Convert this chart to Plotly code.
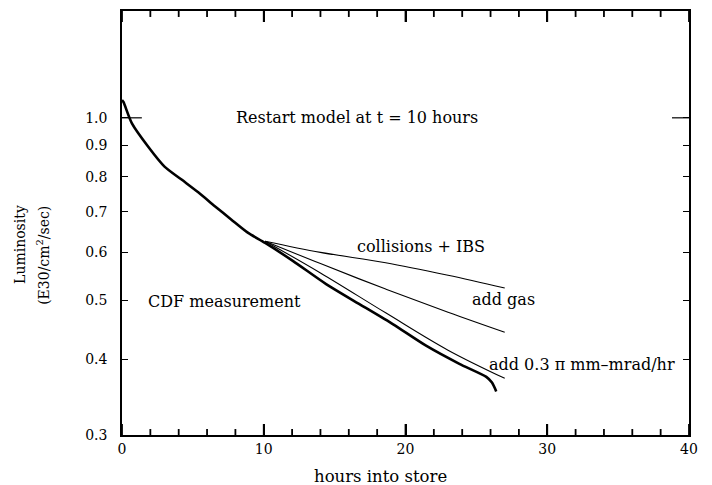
import plotly.graph_objects as go
import math

# ---- data ----
meas_t = [0.0, 0.1, 0.7, 1.85, 3.0, 4.2, 5.4, 6.55, 7.7, 8.9, 10.1, 12.05, 14.4, 16.75, 19.1, 21.45, 23.8, 25.7, 26.1, 26.4]
meas_L = [1.07, 1.062, 0.979, 0.896, 0.831, 0.791, 0.753, 0.715, 0.680, 0.646, 0.622, 0.581, 0.532, 0.493, 0.457, 0.421, 0.393, 0.374, 0.366, 0.354]

model_t = [10.1, 14.0, 18.6, 23.0, 27.0]
coll_ibs_L = [0.626, 0.600, 0.577, 0.550, 0.524]
add_gas_L = [0.626, 0.575, 0.522, 0.478, 0.443]
add_emit_L = [0.626, 0.555, 0.477, 0.414, 0.372]

x_range = [0, 40]
x_major = 10
x_minor = 2
y_ticks = [0.3, 0.4, 0.5, 0.6, 0.7, 0.8, 0.9, 1.0]
y_tick_text = ["0.3", "0.4", "0.5", "0.6", "0.7", "0.8", "0.9", "1.0"]
y_min, y_max = 0.3, 1.5
long_tick_L = 1.0

FONT = "DejaVu Serif"
PLOT_H = 426  # plot-area height in px (485 - 9 - 50)

fig = go.Figure()
fig.add_trace(go.Scatter(x=meas_t, y=meas_L, mode="lines",
                         line=dict(color="black", width=2.6, shape="spline", smoothing=0.7),
                         showlegend=False))
for L in (coll_ibs_L, add_gas_L, add_emit_L):
    fig.add_trace(go.Scatter(x=model_t, y=L, mode="lines",
                             line=dict(color="black", width=1.1, shape="spline"), showlegend=False))

tickfont = dict(family=FONT, size=14, color="black")

fig.update_xaxes(range=x_range, tickmode="linear", tick0=0, dtick=x_major,
                 ticks="inside", ticklen=11, tickwidth=1.8, tickcolor="black",
                 mirror="ticks", showline=True, linecolor="black",
                 linewidth=1.6, showgrid=False, zeroline=False, tickfont=tickfont)

fig.update_yaxes(type="log", range=[math.log10(y_min), math.log10(y_max)],
                 tickvals=y_ticks, ticktext=y_tick_text, ticklen=6, tickwidth=1.2,
                 ticks="inside", tickcolor="black", mirror="ticks", showline=True, linecolor="black",
                 linewidth=1.6, showgrid=False, zeroline=False, tickfont=tickfont,
                 ticklabelstandoff=10)

# x-axis tick marks (bottom and top), long every 10 h, short every 2 h
for v in range(x_range[0], x_range[1] + 1, x_minor):
    ln = (11 if v % x_major == 0 else 6) / PLOT_H
    fig.add_shape(type="line", xref="x", yref="paper", x0=v, x1=v, y0=0, y1=ln,
                  line=dict(color="black", width=1.8), layer="above")
    fig.add_shape(type="line", xref="x", yref="paper", x0=v, x1=v, y0=1, y1=1 - ln,
                  line=dict(color="black", width=1.8), layer="above")

# longer ticks at 1.0 on both sides
fig.add_shape(type="line", xref="paper", yref="y", x0=0, x1=0.035, y0=long_tick_L, y1=long_tick_L,
              line=dict(color="black", width=1.2))
fig.add_shape(type="line", xref="paper", yref="y", x0=0.97, x1=1.0, y0=long_tick_L, y1=long_tick_L,
              line=dict(color="black", width=1.2))

def ann(text, x, L, xanchor="center"):
    fig.add_annotation(text=text, x=x, y=math.log10(L), xref="x", yref="y", showarrow=False,
                       xanchor=xanchor, yanchor="middle", font=dict(family=FONT, size=16, color="black"))

ann("Restart model at t = 10 hours", 16.58, 1.0)
ann("collisions + IBS", 21.06, 0.6145)
ann("add gas", 26.9, 0.501)
ann("add 0.3 \u03c0 mm\u2013mrad/hr", 25.77, 0.392, xanchor="left")
ann("CDF measurement", 1.69, 0.4975, xanchor="left")

fig.add_annotation(text="hours into store", x=(380 - 122) / 567, y=-(477 - 435) / 426, xref="paper", yref="paper",
                   showarrow=False, yanchor="middle", font=dict(family=FONT, size=16.5, color="black"))
fig.add_annotation(text="Luminosity", x=-(122 - 20) / 567, y=(435 - 244) / 426, xref="paper", yref="paper",
                   showarrow=False, textangle=-90, xanchor="center", yanchor="middle",
                   font=dict(family=FONT, size=14, color="black"))
fig.add_annotation(text="(E30/cm<sup>2</sup>/sec)", x=-(122 - 43) / 567, y=(435 - 255) / 426, xref="paper", yref="paper",
                   showarrow=False, textangle=-90, xanchor="center", yanchor="middle",
                   font=dict(family=FONT, size=14, color="black"))

fig.update_layout(width=712, height=485, margin=dict(l=122, r=23, t=9, b=50),
                  paper_bgcolor="white", plot_bgcolor="white")

fig.write_html("out.html", config={"displayModeBar": False},
               post_script="document.body.style.margin='0';document.body.style.overflow='hidden';")
